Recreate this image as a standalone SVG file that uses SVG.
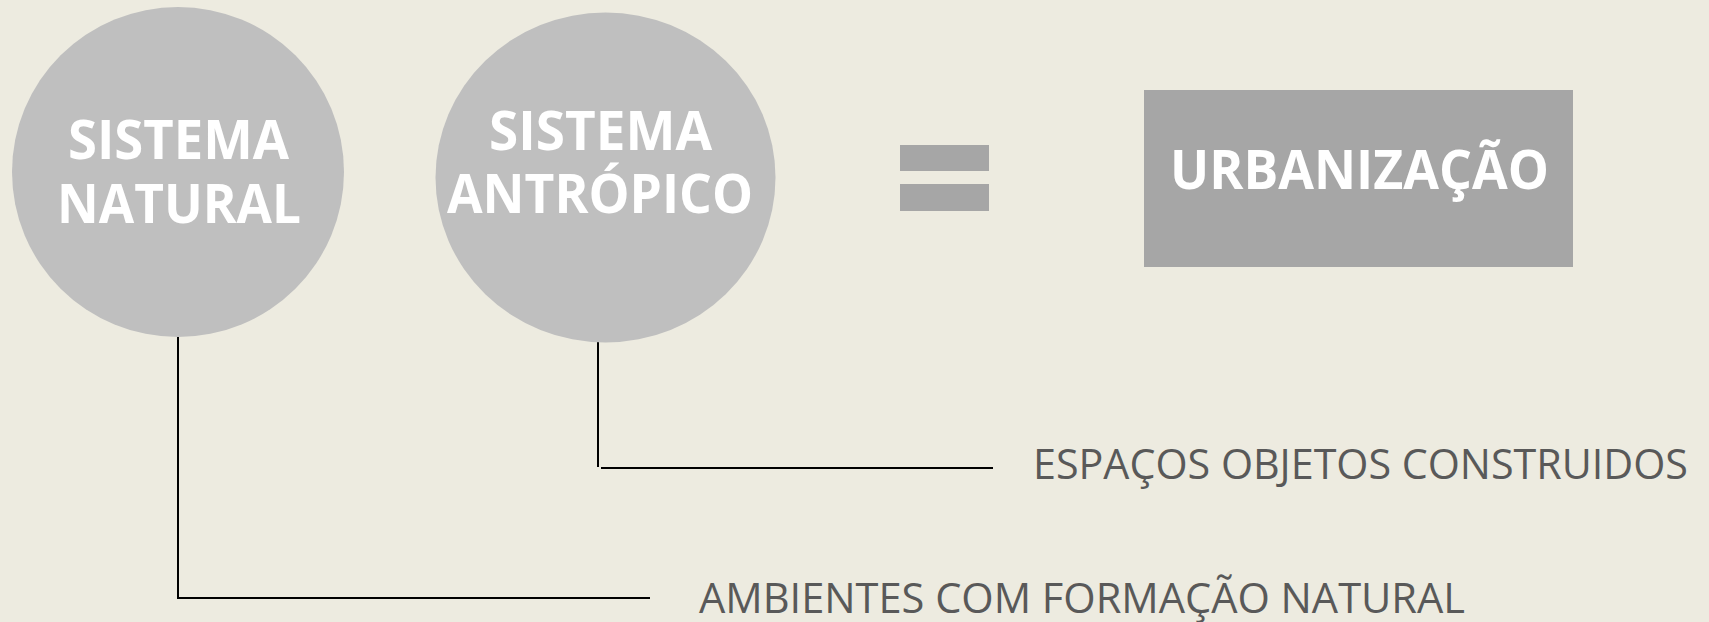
<svg xmlns="http://www.w3.org/2000/svg" width="1709" height="622" viewBox="0 0 1709 622">
<style>
.bg{fill:#EDEBE0}
.circ{fill:#BFBFBF}
.box{fill:#A6A6A6}
.big{font-family:"Open Sans","Noto Sans","Liberation Sans",sans-serif;font-weight:bold;font-size:53px;fill:#FFFFFF}
.lbl{font-family:"Open Sans","Noto Sans","Liberation Sans",sans-serif;font-size:42px;fill:#595959}
.conn{stroke:#000000;stroke-width:2;fill:none}
</style>
<rect class="bg" x="0" y="0" width="1709" height="622"/>
<g id="connectors">
<polyline class="conn" points="178,337 178,598 650,598"/>
<line class="conn" x1="598" y1="338" x2="598" y2="467"/>
<line class="conn" x1="601" y1="468" x2="993" y2="468"/>
</g>
<g id="sistema-natural">
<ellipse class="circ" cx="178" cy="172" rx="166" ry="165"/>
<text class="big" x="68" y="159" textLength="221" lengthAdjust="spacingAndGlyphs">SISTEMA</text>
<text class="big" x="57" y="223" textLength="244" lengthAdjust="spacingAndGlyphs">NATURAL</text>
</g>
<g id="sistema-antropico">
<ellipse class="circ" cx="605.5" cy="177.5" rx="170" ry="165"/>
<text class="big" x="489" y="150" textLength="223" lengthAdjust="spacingAndGlyphs">SISTEMA</text>
<text class="big" x="447" y="213" textLength="306" lengthAdjust="spacingAndGlyphs">ANTRÓPICO</text>
</g>
<g id="equals">
<rect class="box" x="900" y="145" width="89" height="26"/>
<rect class="box" x="900" y="184" width="89" height="27"/>
</g>
<g id="urbanizacao">
<rect class="box" x="1144" y="90" width="429" height="177"/>
<text class="big" x="1170" y="189" textLength="379" lengthAdjust="spacingAndGlyphs">URBANIZAÇÃO</text>
</g>
<g id="label-espacos">
<text class="lbl" x="1033" y="479" textLength="655" lengthAdjust="spacingAndGlyphs">ESPAÇOS OBJETOS CONSTRUIDOS</text>
</g>
<g id="label-ambientes">
<text class="lbl" x="699" y="613" textLength="766" lengthAdjust="spacingAndGlyphs">AMBIENTES COM FORMAÇÃO NATURAL</text>
</g>
</svg>
